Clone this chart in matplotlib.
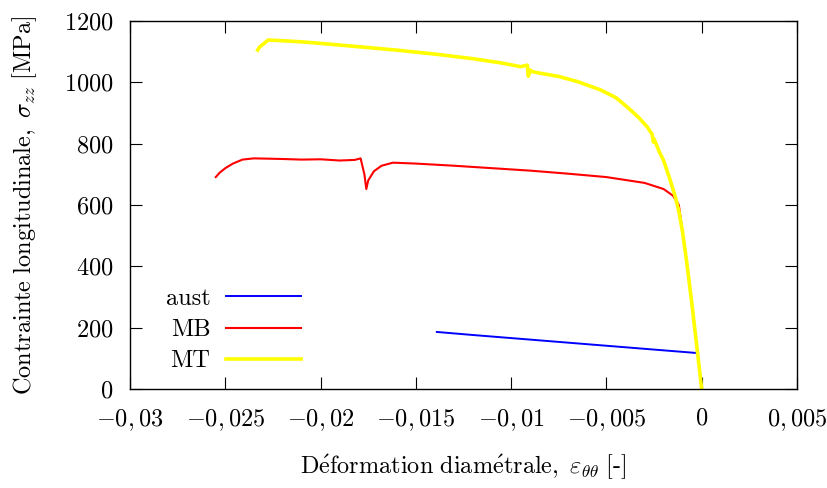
"""
Contrainte longitudinale vs deformation diametrale for aust / MB / MT.
"""
import matplotlib
matplotlib.use("Agg")
import matplotlib.pyplot as plt

plt.rcParams["mathtext.fontset"] = "cm"
plt.rcParams["font.family"] = "serif"
plt.rcParams["font.serif"] = ["cmr10", "DejaVu Serif"]
plt.rcParams["axes.formatter.use_mathtext"] = True

FS = 17.5

# aust
aust_x = [-0.0139, -0.012, -0.010, -0.008, -0.006, -0.004, -0.002, -0.0002, 0.0]
aust_y = [186, 176, 166, 156, 146, 136, 126, 117, 0]

# MB
mb_x = [-0.0255, -0.0253, -0.0250, -0.0246, -0.0241, -0.0235, -0.022, -0.021,
        -0.020, -0.019, -0.0182, -0.0179, -0.0177, -0.0176, -0.0175, -0.0172,
        -0.0168, -0.0162, -0.015, -0.013, -0.011, -0.009, -0.007, -0.005,
        -0.003, -0.002, -0.0015, -0.0012, -0.0010, -0.0008, -0.0005, 0.0]
mb_y = [691, 705, 720, 735, 748, 752, 750, 748,
        749, 745, 747, 752, 700, 652, 680, 710,
        728, 738, 735, 728, 720, 712, 702, 691,
        672, 652, 630, 600, 510, 420, 270, 0]

# MT
mt_x = [-0.0233, -0.0232, -0.0230, -0.02275, -0.0224, -0.021, -0.020, -0.018,
        -0.016, -0.014, -0.012, -0.0105, -0.0095, -0.00915, -0.0091, -0.0090,
        -0.0089, -0.0085, -0.0075, -0.0065, -0.0053, -0.0045, -0.0039, -0.0033,
        -0.00285, -0.0026, -0.00253, -0.0025, -0.0022, -0.0020, -0.0017,
        -0.0014, -0.0012, -0.0010, -0.0008, -0.0005, 0.0]
mt_y = [1105, 1115, 1125, 1138, 1137, 1132, 1127, 1116,
        1105, 1092, 1077, 1063, 1051, 1056, 1020, 1040,
        1035, 1030, 1019, 1002, 975, 950, 919, 885,
        854, 830, 805, 815, 770, 745, 690,
        630, 580, 510, 420, 270, 0]

x_ticks = [-0.03, -0.025, -0.02, -0.015, -0.01, -0.005, 0, 0.005]
x_tick_labels = [r"$-0,03$", r"$-0,025$", r"$-0,02$", r"$-0,015$",
                 r"$-0,01$", r"$-0,005$", r"$0$", r"$0,005$"]
y_ticks = [0, 200, 400, 600, 800, 1000, 1200]

fig = plt.figure(figsize=(8.27, 4.88), dpi=100)
ax = fig.add_axes([0.1572, 0.2029, 0.8065, 0.7541])

ax.plot(aust_x, aust_y, color="#0000ff", linewidth=1.4, label="aust")
ax.plot(mb_x, mb_y, color="#ff0000", linewidth=1.5, label="MB")
ax.plot(mt_x, mt_y, color="#ffff00", linewidth=2.6, label="MT")

ax.set_xlim(-0.03, 0.005)
ax.set_ylim(0, 1200)
ax.set_xticks(x_ticks)
ax.set_xticklabels(x_tick_labels)
ax.set_yticks(y_ticks)
ax.set_yticklabels([r"$%d$" % v for v in y_ticks])
ax.tick_params(direction="in", length=8.5, width=0.8, top=True, right=True,
               labelsize=FS)
ax.tick_params(axis="x", pad=13)
ax.tick_params(axis="y", pad=12)
for s in ax.spines.values():
    s.set_linewidth(1.0)

ax.set_xlabel(r"$\mathrm{D\acute{e}formation\ diam\acute{e}trale,}\ "
              r"\varepsilon_{\theta\theta}\ \mathrm{[\text{-}]}$",
              fontsize=FS, labelpad=14)
ax.set_ylabel(r"$\mathrm{Contrainte\ longitudinale,}\ \sigma_{zz}\ "
              r"\mathrm{[MPa]}$", fontsize=FS, labelpad=18)

leg = ax.legend(loc="lower left", bbox_to_anchor=(0.035, 0.012), frameon=False,
                markerfirst=False, handlelength=3.1, handletextpad=0.65,
                labelspacing=0.38, borderpad=0, fontsize=FS)
for t in leg.get_texts():
    t.set_ha("right")

fig.savefig("out.png", dpi=100)
